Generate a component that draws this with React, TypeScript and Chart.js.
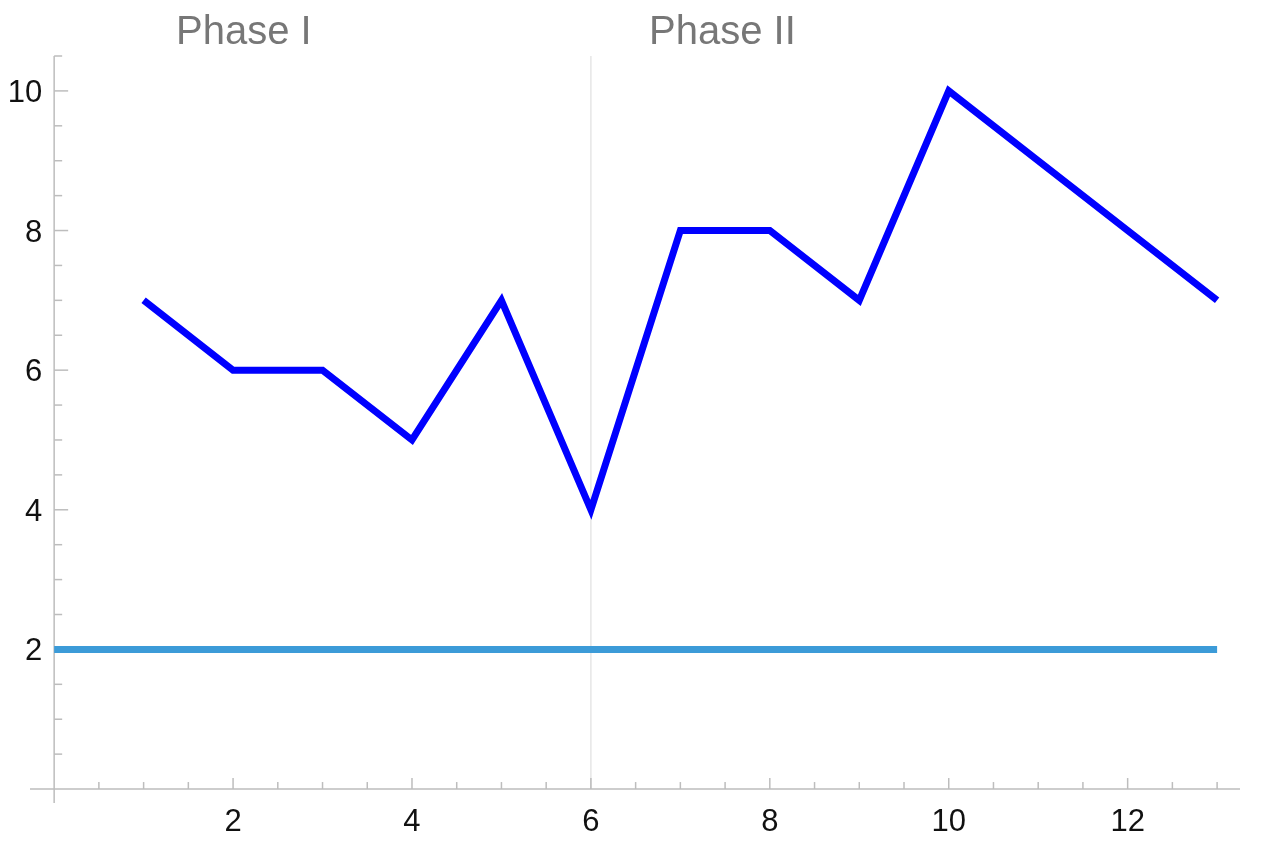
import React, { useEffect, useRef } from "react";
import { Chart, registerables } from "chart.js";

Chart.register(...registerables);

const xValues = [1, 2, 3, 4, 5, 6, 7, 8, 9, 10, 11, 12, 13];
const yValues = [7, 6, 6, 5, 7, 4, 8, 8, 7, 10, 9, 8, 7];
const thresholdX = [0, 13];
const thresholdY = [2, 2];
const phaseDividerX = 6;
const phaseLabels = ["Phase I", "Phase II"];
const phaseLabelX = [2.12, 7.47];
const xTickLabels = [2, 4, 6, 8, 10, 12];
const yTickLabels = [2, 4, 6, 8, 10];
const xRange = [-0.27, 13.2];
const yRange = [-0.2, 10.5];

const axesPlugin = {
  id: "mmaAxes",
  beforeDatasetsDraw(chart: any) {
    const { ctx } = chart;
    const xs = chart.scales.x;
    const ys = chart.scales.y;
    const x0 = xs.getPixelForValue(0);
    const y0 = ys.getPixelForValue(0);
    ctx.save();
    // divider
    ctx.strokeStyle = "#e6e6e6";
    ctx.lineWidth = 1.5;
    const dx = xs.getPixelForValue(phaseDividerX);
    ctx.beginPath();
    ctx.moveTo(dx, ys.getPixelForValue(yRange[1]));
    ctx.lineTo(dx, y0);
    ctx.stroke();

    ctx.strokeStyle = "#bdbdbd";
    ctx.lineWidth = 1.5;
    // x axis
    ctx.beginPath();
    ctx.moveTo(xs.getPixelForValue(xRange[0]), y0);
    ctx.lineTo(xs.getPixelForValue(xRange[1]) + 5, y0);
    ctx.stroke();
    // y axis
    ctx.beginPath();
    ctx.moveTo(x0, ys.getPixelForValue(yRange[0]));
    ctx.lineTo(x0, ys.getPixelForValue(yRange[1]));
    ctx.stroke();

    // x ticks
    for (let v = 0.5; v <= 13.001; v += 0.5) {
      const px = xs.getPixelForValue(v);
      const major = Math.abs(v / 2 - Math.round(v / 2)) < 1e-6;
      ctx.beginPath();
      ctx.moveTo(px, y0);
      ctx.lineTo(px, y0 - (major ? 11 : 7));
      ctx.stroke();
    }
    // y ticks
    for (let v = 0.5; v <= 10.501; v += 0.5) {
      const py = ys.getPixelForValue(v);
      const major = Math.abs(v / 2 - Math.round(v / 2)) < 1e-6;
      ctx.beginPath();
      ctx.moveTo(x0, py);
      ctx.lineTo(x0 + (major ? 14 : 8), py);
      ctx.stroke();
    }

    // tick labels
    ctx.fillStyle = "#111111";
    ctx.font = "31px 'Liberation Sans', Arial, sans-serif";
    ctx.textAlign = "center";
    ctx.textBaseline = "alphabetic";
    xTickLabels.forEach((v) => {
      ctx.fillText(String(v), xs.getPixelForValue(v), y0 + 42);
    });
    ctx.textAlign = "right";
    yTickLabels.forEach((v) => {
      ctx.fillText(String(v), x0 - 12, ys.getPixelForValue(v) + 11);
    });

    // phase labels
    ctx.fillStyle = "#777777";
    ctx.font = "40px 'Liberation Sans', Arial, sans-serif";
    ctx.textAlign = "center";
    phaseLabels.forEach((t, i) => {
      ctx.fillText(t, xs.getPixelForValue(phaseLabelX[i]), 44);
    });
    ctx.restore();
  },
};

export default function App() {
  const ref = useRef<HTMLCanvasElement | null>(null);
  useEffect(() => {
    if (!ref.current) return;
    const chart = new Chart(ref.current, {
      type: "scatter",
      data: {
        datasets: [
          {
            data: thresholdX.map((x, i) => ({ x, y: thresholdY[i] })),
            showLine: true,
            borderColor: "#3c9bd8",
            borderWidth: 7,
            pointRadius: 0,
            borderCapStyle: "butt",
          },
          {
            data: xValues.map((x, i) => ({ x, y: yValues[i] })),
            showLine: true,
            borderColor: "#0000ff",
            borderWidth: 7,
            pointRadius: 0,
            borderJoinStyle: "miter",
            borderCapStyle: "butt",
          },
        ],
      },
      options: {
        responsive: false,
        animation: false,
        devicePixelRatio: 1,
        layout: { padding: { left: 30, right: 27, top: 56, bottom: 42 } },
        plugins: { legend: { display: false }, tooltip: { enabled: false } },
        scales: {
          x: { type: "linear", min: xRange[0], max: xRange[1], display: false },
          y: { type: "linear", min: yRange[0], max: yRange[1], display: false },
        },
      },
      plugins: [axesPlugin],
    } as any);
    return () => chart.destroy();
  }, []);
  return (
    <div style={{ position: "absolute", left: 0, top: 0, width: 1262, height: 845, background: "#fff" }}>
      <canvas ref={ref} width={1262} height={845} />
    </div>
  );
}
